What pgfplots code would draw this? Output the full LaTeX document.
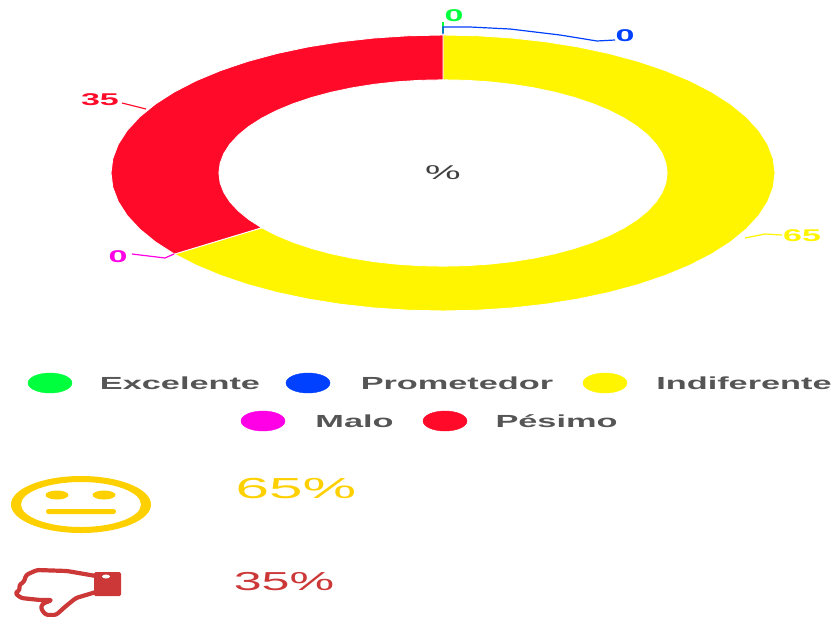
\documentclass[border=0pt]{standalone}
\usepackage{pgfplots}
\pgfplotsset{compat=1.18}
\usepgfplotslibrary{polar}
\usepackage{fontspec}
\setmainfont{Liberation Sans}
\definecolor{cExc}{HTML}{00FF3C}
\definecolor{cPro}{HTML}{0040FF}
\definecolor{cInd}{HTML}{FFF500}
\definecolor{cMal}{HTML}{FF00E6}
\definecolor{cPes}{HTML}{FF0A28}
\definecolor{cGold}{HTML}{FFD000}
\definecolor{cThumb}{HTML}{CC3838}
\definecolor{cText}{HTML}{555555}
\newcommand{\fs}[1]{\fontsize{#1}{#1}\selectfont}
\begin{document}
\begin{tikzpicture}
\path[use as bounding box] (0,0) rectangle (835pt,616pt);
% Doughnut ring: angle, radius pairs; Indiferente 65 % = 234 deg, Pesimo 35 % = 126 deg
\begin{axis}[at={(0,0)},anchor=south west,scale only axis,width=835pt,height=616pt,hide axis,
  xmin=-1.3343,xmax=1.1807,ymin=-3.2101,ymax=1.2536]
\addplot[data cs=polar,fill=cInd,draw=white,line width=0.9pt] coordinates {
(90,1)(84,1)(78,1)(72,1)(66,1)(60,1)(54,1)(48,1)(42,1)(36,1)(30,1)(24,1)(18,1)(12,1)(6,1)(0,1)
(-6,1)(-12,1)(-18,1)(-24,1)(-30,1)(-36,1)(-42,1)(-48,1)(-54,1)(-60,1)(-66,1)(-72,1)(-78,1)(-84,1)
(-90,1)(-96,1)(-102,1)(-108,1)(-114,1)(-120,1)(-126,1)(-132,1)(-138,1)(-144,1)
(-144,.675)(-138,.675)(-132,.675)(-126,.675)(-120,.675)(-114,.675)(-108,.675)(-102,.675)(-96,.675)(-90,.675)
(-84,.675)(-78,.675)(-72,.675)(-66,.675)(-60,.675)(-54,.675)(-48,.675)(-42,.675)(-36,.675)(-30,.675)
(-24,.675)(-18,.675)(-12,.675)(-6,.675)(0,.675)(6,.675)(12,.675)(18,.675)(24,.675)(30,.675)(36,.675)
(42,.675)(48,.675)(54,.675)(60,.675)(66,.675)(72,.675)(78,.675)(84,.675)(90,.675)
} -- cycle;
\addplot[data cs=polar,fill=cPes,draw=white,line width=0.9pt] coordinates {
(-144,1)(-150,1)(-156,1)(-162,1)(-168,1)(-174,1)(-180,1)(-186,1)(-192,1)(-198,1)(-204,1)(-210,1)
(-216,1)(-222,1)(-228,1)(-234,1)(-240,1)(-246,1)(-252,1)(-258,1)(-264,1)(-270,1)
(-270,.675)(-264,.675)(-258,.675)(-252,.675)(-246,.675)(-240,.675)(-234,.675)(-228,.675)(-222,.675)
(-216,.675)(-210,.675)(-204,.675)(-198,.675)(-192,.675)(-186,.675)(-180,.675)(-174,.675)(-168,.675)
(-162,.675)(-156,.675)(-150,.675)(-144,.675)
} -- cycle;
\end{axis}
% Labels, leader lines, legend and summary icons in a 835 x 616 grid, y downward
\begin{axis}[at={(0,0)},anchor=south west,scale only axis,width=835pt,height=616pt,hide axis,
  xmin=0,xmax=835,ymin=0,ymax=616,y dir=reverse,clip=true,
  every node/.style={inner sep=0pt,outer sep=0pt}]
% leader lines
\addplot[cExc,line width=1.2pt] coordinates {(443,33)(443,22)};
\addplot[cPro,line width=1.2pt] coordinates {(443,34)(443,27)(470,27)(510,29)(560,35)(597,41)(615,40)};
\addplot[cInd,line width=1.2pt] coordinates {(745,238)(765,234)(782,235)};
\addplot[cMal,line width=1.2pt] coordinates {(174,254)(165,258)(132,254)};
\addplot[cPes,line width=1.2pt] coordinates {(146,109)(122,103)};
% data labels
\node[text=cExc,xscale=2,font=\fs{17}\bfseries] at (axis cs:454,15.5) {0};
\node[text=cPro,xscale=2,font=\fs{17}\bfseries] at (axis cs:625,35.5) {0};
\node[text=cInd,xscale=2,font=\fs{17}\bfseries] at (axis cs:802,236) {65};
\node[text=cMal,xscale=2,font=\fs{17}\bfseries] at (axis cs:118,256.5) {0};
\node[text=cPes,xscale=2,font=\fs{17}\bfseries] at (axis cs:100,99.5) {35};
\node[text=black!75,xscale=2,font=\fs{20}] at (axis cs:443,173) {\%};
% legend keys
\addplot[only marks,mark=*,cExc,mark size=10pt,mark options={xscale=2.2}] coordinates {(50,383)};
\addplot[only marks,mark=*,cPro,mark size=10pt,mark options={xscale=2.2}] coordinates {(308,383)};
\addplot[only marks,mark=*,cInd,mark size=10pt,mark options={xscale=2.2}] coordinates {(605,383)};
\addplot[only marks,mark=*,cMal,mark size=10pt,mark options={xscale=2.2}] coordinates {(263,421)};
\addplot[only marks,mark=*,cPes,mark size=10pt,mark options={xscale=2.2}] coordinates {(445,421)};
% legend text
\node[text=cText,xscale=1.96,font=\fs{17.5}\bfseries] at (axis cs:180,383) {Excelente};
\node[text=cText,xscale=1.96,font=\fs{17.5}\bfseries] at (axis cs:457,383) {Prometedor};
\node[text=cText,xscale=1.96,font=\fs{17.5}\bfseries] at (axis cs:744,383) {Indiferente};
\node[text=cText,xscale=1.96,font=\fs{17.5}\bfseries] at (axis cs:354.5,421) {Malo};
\node[text=cText,xscale=1.96,font=\fs{17.5}\bfseries] at (axis cs:556.5,421) {Pésimo};
% neutral face
\fill[cGold,even odd rule] (axis cs:81,504.5) ellipse [x radius=70pt,y radius=28.5pt]
  (axis cs:81,504.5) ellipse [x radius=60pt,y radius=22.5pt];
\fill[cGold] (axis cs:57,495) ellipse [x radius=11.5pt,y radius=4.5pt];
\fill[cGold] (axis cs:104,495) ellipse [x radius=11.5pt,y radius=4.5pt];
\fill[cGold,rounded corners=2.4pt] (axis cs:46,509) rectangle (axis cs:116,514);
\node[text=cGold,xscale=2.08,font=\fs{29}] at (axis cs:296,489) {65\%};
% thumbs down
\draw[cThumb,line width=4.2pt,line join=round,fill=white,rounded corners=2.5pt]
  (axis cs:96,576) -- (axis cs:67,571) -- (axis cs:37,570) -- (axis cs:26,575) -- (axis cs:24,582)
  -- (axis cs:19,585) -- (axis cs:20,590) -- (axis cs:15,593) -- (axis cs:21,598) -- (axis cs:40,600)
  -- (axis cs:52,600) -- (axis cs:42,604) -- (axis cs:41,609) -- (axis cs:46,615) -- (axis cs:56,615)
  -- (axis cs:66,606) -- (axis cs:76,598) -- (axis cs:96,592);
\fill[cThumb,rounded corners=1.5pt] (axis cs:94,572) rectangle (axis cs:121,596);
\fill[white] (axis cs:106,576.5) ellipse [x radius=4pt,y radius=2pt];
\node[text=cThumb,xscale=1.93,font=\fs{26}] at (axis cs:284,582) {35\%};
\end{axis}
\end{tikzpicture}
\end{document}
